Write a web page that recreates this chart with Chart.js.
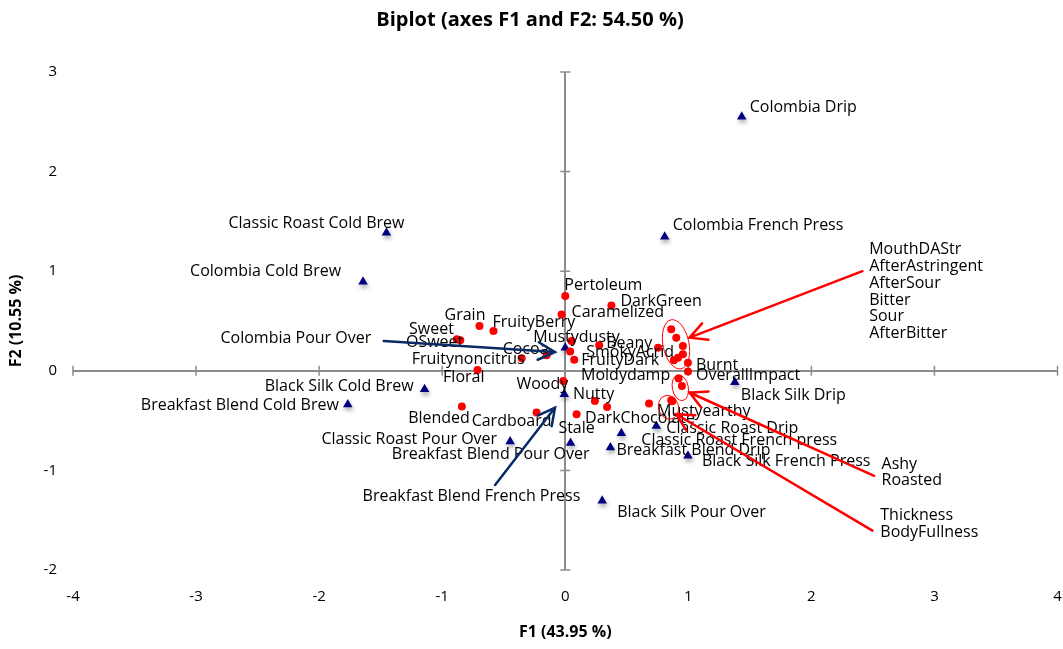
<!DOCTYPE html>
<html>
<head>
<meta charset="utf-8">
<title>Biplot</title>
<script src="https://cdn.jsdelivr.net/npm/chart.js@4"></script>
<style>
  html, body { margin: 0; padding: 0; background: #fff; }
  #wrap { width: 1063px; height: 649px; }
</style>
</head>
<body>
<div id="wrap"><canvas id="biplot" width="1063" height="649"></canvas></div>
<script>
// Variables (red dots)
const varNames = ['Pertoleum', 'DarkGreen', 'Caramelized', 'Grain', 'FruityBerry', 'Sweet', 'OSweet',
    'Mustydusty', 'Beany', 'Cocoa', 'SmokyAcrid', 'FruityDark', 'Moldydamp', 'Fruitynoncitrus',
    'Floral', 'Woody', 'Nutty', 'DarkChocolate', 'Stale', 'Blended', 'Cardboard', 'Mustyearthy',
    'Burnt', 'OverallImpact', 'MouthDAStr', 'AfterAstringent', 'AfterSour', 'Bitter', 'Sour',
    'AfterBitter', 'Ashy', 'Roasted', 'Thickness', 'BodyFullness'];
const varF1 = [0.00, 0.375, -0.03, -0.697, -0.583, -0.881, -0.853, 0.051, 0.276, -0.152, 0.04, 0.073,
    0.754, -0.354, -0.713, -0.016, 0.241, 0.34, 0.092, -0.84, -0.233, 0.681, 0.997, 0.997, 0.861,
    0.902, 0.956, 0.956, 0.916, 0.883, 0.921, 0.948, 0.861, 0.87];
const varF2 = [0.75, 0.656, 0.566, 0.449, 0.399, 0.316, 0.306, 0.299, 0.256, 0.155, 0.195, 0.11,
    0.232, 0.125, 0.008, -0.102, -0.303, -0.363, -0.436, -0.359, -0.419, -0.329, 0.082, -0.008,
    0.416, 0.333, 0.248, 0.165, 0.132, 0.105, -0.078, -0.152, -0.296, -0.305];

// Observations (navy triangles)
const obsNames = ['Colombia Drip', 'Colombia French Press', 'Classic Roast Cold Brew', 'Colombia Cold Brew',
    'Colombia Pour Over', 'Black Silk Cold Brew', 'Breakfast Blend Cold Brew', 'Breakfast Blend French Press',
    'Classic Roast Pour Over', 'Breakfast Blend Pour Over', 'Breakfast Blend Drip', 'Classic Roast French press',
    'Classic Roast Drip', 'Black Silk French Press', 'Black Silk Drip', 'Black Silk Pour Over'];
const obsF1 = [1.434, 0.808, -1.453, -1.643, 0.00, -1.143, -1.767, -0.008, -0.448, 0.043, 0.367, 0.456,
    0.74, 0.997, 1.378, 0.30];
const obsF2 = [2.55, 1.345, 1.385, 0.894, 0.232, -0.185, -0.339, -0.235, -0.709, -0.726, -0.77, -0.626,
    -0.553, -0.854, -0.115, -1.305];

const xTicks = [-4, -3, -2, -1, 0, 1, 2, 3, 4];
const yTicks = [-2, -1, 0, 1, 2, 3];

const FONT = '"Open Sans", "Noto Sans", sans-serif';
const axisGrey = '#8c8c8c';

// where each point label sits relative to its marker: [dx, dy, align] in px
const labelSpots = {
    'Pertoleum': [-1, -11, 'left'],
    'DarkGreen': [9, -4, 'left'],
    'Caramelized': [10, -2, 'left'],
    'Grain': [6, -11, 'right'],
    'FruityBerry': [-1, -9, 'left'],
    'Sweet': [-3, -10, 'right'],
    'OSweet': [3, 2, 'right'],
    'Mustydusty': [5, -4, 'center'],
    'Beany': [7, -2, 'left'],
    'Cocoa': [2, -6, 'right'],
    'SmokyAcrid': [16, 1, 'left'],
    'FruityDark': [7, 1, 'left'],
    'Moldydamp': [-77, 28, 'left'],
    'Fruitynoncitrus': [3, 1, 'right'],
    'Floral': [7, 7, 'right'],
    'Woody': [5, 3, 'right'],
    'Nutty': [-22, -7, 'left'],
    'DarkChocolate': [-22, 11, 'left'],
    'Stale': [0, 14, 'center'],
    'Blended': [8, 12, 'right'],
    'Cardboard': [15, 9, 'right'],
    'Mustyearthy': [8, 8, 'left'],
    'Burnt': [8, 3, 'left'],
    'OverallImpact': [8, 4, 'left'],
    'Colombia Drip': [8, -9, 'left'],
    'Colombia French Press': [8, -11, 'left'],
    'Classic Roast Cold Brew': [18, -9, 'right'],
    'Colombia Cold Brew': [-22, -10, 'right'],
    'Colombia Pour Over': [-194, -9, 'right'],
    'Black Silk Cold Brew': [-11, -3, 'right'],
    'Breakfast Blend Cold Brew': [-9, 1, 'right'],
    'Breakfast Blend French Press': [16, 102, 'right'],
    'Classic Roast Pour Over': [-13, -2, 'right'],
    'Breakfast Blend Pour Over': [19, 11, 'right'],
    'Breakfast Blend Drip': [6, 3, 'left'],
    'Classic Roast French press': [20, 7, 'left'],
    'Classic Roast Drip': [10, 3, 'left'],
    'Black Silk French Press': [14, 6, 'left'],
    'Black Silk Drip': [6, 13, 'left'],
    'Black Silk Pour Over': [15, 12, 'left']
};

// clustered variables: text block on the right, arrow to the cluster, ellipse round it
const clusters = [
    { names: ['MouthDAStr', 'AfterAstringent', 'AfterSour', 'Bitter', 'Sour', 'AfterBitter'],
      text: [2.47, 1.217], from: [2.415, 1.0], to: [1.01, 0.333],
      ring: [0.9, 0.266, 13, 25, -0.2] },
    { names: ['Ashy', 'Roasted'],
      text: [2.57, -0.937], from: [2.51, -1.054], to: [1.01, -0.218],
      ring: [0.935, -0.17, 8, 13, -0.2] },
    { names: ['Thickness', 'BodyFullness'],
      text: [2.56, -1.455], from: [2.496, -1.605], to: [0.902, -0.436],
      ring: [0.839, -0.366, 10, 12, -0.3] }
];

// navy pointer arrows for crowded observations
const pointers = [
    { from: [-1.475, 0.299], to: [-0.083, 0.188] },
    { from: [-0.57, -1.147], to: [-0.083, -0.369] }
];

function drawArrow(ctx, x1, y1, x2, y2, color) {
    const ang = Math.atan2(y1 - y2, x1 - x2);
    const head = 19, spread = 0.48;
    ctx.save();
    ctx.strokeStyle = color;
    ctx.lineWidth = 2.5;
    ctx.lineCap = 'round';
    ctx.beginPath();
    ctx.moveTo(x1, y1);
    ctx.lineTo(x2, y2);
    ctx.moveTo(x2 + head * Math.cos(ang - spread), y2 + head * Math.sin(ang - spread));
    ctx.lineTo(x2, y2);
    ctx.lineTo(x2 + head * Math.cos(ang + spread), y2 + head * Math.sin(ang + spread));
    ctx.stroke();
    ctx.restore();
}

const biplotExtras = {
    id: 'biplotExtras',
    beforeDatasetsDraw(chart) {
        const { ctx, scales: { x, y } } = chart;
        const x0 = x.getPixelForValue(0);
        const y0 = y.getPixelForValue(0);
        ctx.save();
        ctx.strokeStyle = axisGrey;
        ctx.lineWidth = 1.5;
        ctx.beginPath();
        xTicks.forEach(v => {
            const px = x.getPixelForValue(v);
            ctx.moveTo(px, y0 - 5);
            ctx.lineTo(px, y0 + 5);
        });
        yTicks.forEach(v => {
            const py = y.getPixelForValue(v);
            ctx.moveTo(x0 - 5, py);
            ctx.lineTo(x0 + 5, py);
        });
        ctx.stroke();
        ctx.restore();
    },
    beforeDatasetDraw(chart, args) {
        if (args.index === 1) {
            const ctx = chart.ctx;
            ctx.save();
            ctx.shadowColor = 'rgba(0,0,0,0.35)';
            ctx.shadowBlur = 4;
            ctx.shadowOffsetX = 1;
            ctx.shadowOffsetY = 3;
        }
    },
    afterDatasetDraw(chart, args) {
        if (args.index === 1) chart.ctx.restore();
    },
    afterDatasetsDraw(chart) {
        const { ctx, scales: { x, y } } = chart;
        ctx.save();
        ctx.font = '16px ' + FONT;
        ctx.fillStyle = '#000';
        ctx.textBaseline = 'middle';

        // point labels
        [[0, varNames], [1, obsNames]].forEach(([idx, names]) => {
            const meta = chart.getDatasetMeta(idx);
            names.forEach((name, i) => {
                const spot = labelSpots[name];
                if (!spot) return;
                const pt = meta.data[i];
                ctx.textAlign = spot[2];
                ctx.fillText(name, pt.x + spot[0], pt.y + spot[1]);
            });
        });

        // clusters
        clusters.forEach(c => {
            ctx.textAlign = 'left';
            const tx = x.getPixelForValue(c.text[0]);
            const ty = y.getPixelForValue(c.text[1]);
            c.names.forEach((n, k) => ctx.fillText(n, tx, ty + k * 16.8));

            ctx.strokeStyle = '#ff0000';
            ctx.lineWidth = 1;
            ctx.beginPath();
            ctx.ellipse(x.getPixelForValue(c.ring[0]), y.getPixelForValue(c.ring[1]),
                c.ring[2], c.ring[3], c.ring[4], 0, Math.PI * 2);
            ctx.stroke();

            drawArrow(ctx, x.getPixelForValue(c.from[0]), y.getPixelForValue(c.from[1]),
                x.getPixelForValue(c.to[0]), y.getPixelForValue(c.to[1]), '#ff0000');
        });

        pointers.forEach(p => {
            drawArrow(ctx, x.getPixelForValue(p.from[0]), y.getPixelForValue(p.from[1]),
                x.getPixelForValue(p.to[0]), y.getPixelForValue(p.to[1]), '#0a2a66');
        });
        ctx.restore();
    }
};

const zeroOnly = c => (c.tick && c.tick.value === 0) ? axisGrey : 'rgba(0,0,0,0)';

new Chart(document.getElementById('biplot'), {
    type: 'scatter',
    data: {
        datasets: [{
            label: 'Variables',
            data: varF1.map((v, i) => ({ x: v, y: varF2[i] })),
            pointStyle: 'circle',
            pointRadius: 4,
            backgroundColor: '#ff0000',
            borderWidth: 0
        }, {
            label: 'Observations',
            data: obsF1.map((v, i) => ({ x: v, y: obsF2[i] })),
            pointStyle: 'triangle',
            pointRadius: 5.5,
            backgroundColor: '#000080',
            borderWidth: 0
        }]
    },
    options: {
        responsive: false,
        animation: false,
        devicePixelRatio: 1,
        events: [],
        layout: { padding: { left: 0, right: 3, top: 0, bottom: 0 } },
        plugins: {
            legend: { display: false },
            tooltip: { enabled: false },
            title: {
                display: true,
                text: 'Biplot (axes F1 and F2: 54.50 %)',
                color: '#000',
                font: { family: FONT, size: 20, weight: 'bold' },
                padding: { top: 8, bottom: 40 }
            }
        },
        scales: {
            x: {
                type: 'linear',
                min: -4,
                max: 4,
                border: { display: false },
                grid: { color: zeroOnly, lineWidth: 2, drawTicks: false },
                ticks: {
                    stepSize: 1,
                    color: '#000',
                    padding: 18,
                    font: { family: FONT, size: 15 }
                },
                title: {
                    display: true,
                    text: 'F1 (43.95 %)',
                    color: '#000',
                    font: { family: FONT, size: 16, weight: 'bold' },
                    padding: { top: 0, bottom: 7 }
                },
                afterFit: s => { s.height = 79; s.paddingRight = 0; }
            },
            y: {
                type: 'linear',
                min: -2,
                max: 3,
                border: { display: false },
                grid: { color: zeroOnly, lineWidth: 2, drawTicks: false },
                ticks: {
                    stepSize: 1,
                    color: '#000',
                    padding: 16,
                    font: { family: FONT, size: 15 }
                },
                title: {
                    display: true,
                    text: 'F2 (10.55 %)',
                    color: '#000',
                    font: { family: FONT, size: 16, weight: 'bold' },
                    padding: { top: 7, bottom: 0 }
                },
                afterFit: s => { s.width = 73; }
            }
        }
    },
    plugins: [biplotExtras]
});
</script>
</body>
</html>
